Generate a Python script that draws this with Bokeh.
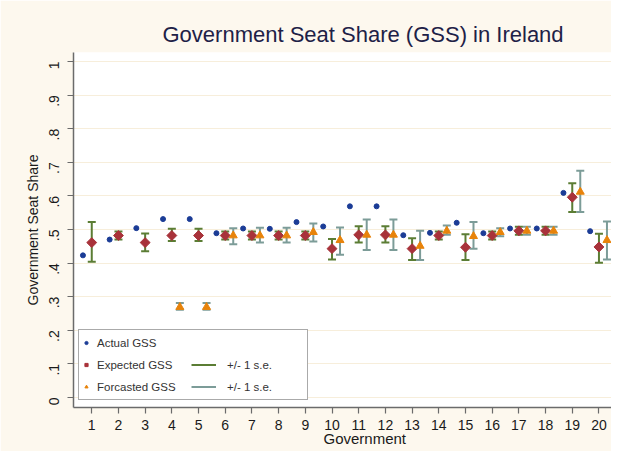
import math
from bokeh.plotting import figure
from bokeh.models import Legend, LegendItem, FixedTicker, Title
from bokeh.embed import file_html
from bokeh.resources import INLINE

# ---- data ----
gov = list(range(1, 21))
actual = [0.423, 0.470, 0.504, 0.531, 0.531, 0.489, 0.503, 0.502, 0.522, 0.509,
          0.569, 0.569, 0.483, 0.490, 0.520, 0.489, 0.503, 0.503, 0.609, 0.495]
expected = [0.461, 0.482, 0.461, 0.482, 0.482, 0.482, 0.482, 0.482, 0.482, 0.443,
            0.484, 0.484, 0.443, 0.482, 0.447, 0.482, 0.496, 0.496, 0.596, 0.448]
exp_lo = [0.404, 0.470, 0.435, 0.466, 0.466, 0.470, 0.470, 0.470, 0.470, 0.411,
          0.461, 0.461, 0.409, 0.470, 0.409, 0.470, 0.484, 0.484, 0.552, 0.401]
exp_hi = [0.522, 0.494, 0.488, 0.502, 0.502, 0.494, 0.494, 0.494, 0.494, 0.472,
          0.510, 0.510, 0.474, 0.494, 0.486, 0.494, 0.508, 0.508, 0.638, 0.487]

fc_gov = list(range(4, 21))
forecast = [0.269, 0.269, 0.482, 0.482, 0.482, 0.492, 0.468, 0.484, 0.484, 0.451,
            0.496, 0.480, 0.492, 0.496, 0.496, 0.612, 0.468]
fc_lo = [0.261, 0.261, 0.456, 0.461, 0.461, 0.464, 0.425, 0.439, 0.439, 0.409,
         0.484, 0.443, 0.480, 0.484, 0.484, 0.552, 0.411]
fc_hi = [0.281, 0.281, 0.504, 0.505, 0.505, 0.518, 0.506, 0.530, 0.530, 0.496,
         0.512, 0.522, 0.504, 0.508, 0.508, 0.675, 0.524]

y_ticks = [0, 0.1, 0.2, 0.3, 0.4, 0.5, 0.6, 0.7, 0.8, 0.9, 1.0]
y_tick_labels = ["0", ".1", ".2", ".3", ".4", ".5", ".6", ".7", ".8", ".9", "1"]

# ---- style ----
BG = "#fdf8ee"
NAVY = "#1b3c96"
MAROON = "#a8323a"
ORANGE = "#e8830a"
GREEN = "#5b7d34"
TEAL = "#7c9c98"
FONT = "Liberation Sans"

ACT_OFF = -0.33
FC_OFF = 0.30

x_act = [g + ACT_OFF for g in gov]
x_fc = [g + FC_OFF for g in fc_gov]

p = figure(width=611, height=451, x_range=(0.316, 20.47), y_range=(-0.03, 1.027),
           output_backend="svg", toolbar_location=None,
           min_border_left=73, min_border_right=0, min_border_top=52, min_border_bottom=44)
p.background_fill_color = "white"
p.border_fill_color = BG
p.outline_line_color = None

# title
p.title.text = "Government Seat Share (GSS) in Ireland"
p.title.align = "left"
p.title.offset = 89
p.title.text_font = FONT
p.title.text_font_size = "22px"
p.title.text_font_style = "normal"
p.title.text_color = "#1e2147"
p.title.standoff = 12

# grid
p.xgrid.grid_line_color = None
p.ygrid.grid_line_color = "#f7eedb"
p.ygrid.grid_line_width = 1

# axes
p.xaxis.ticker = FixedTicker(ticks=gov)
p.yaxis.ticker = FixedTicker(ticks=y_ticks)
p.yaxis.major_label_overrides = {t: l for t, l in zip(y_ticks, y_tick_labels)}
p.yaxis.major_label_orientation = math.pi / 2
for ax in (p.xaxis[0], p.yaxis[0]):
    ax.axis_line_color = "#6b6b6b"
    ax.axis_line_width = 1.5
    ax.major_tick_line_color = "#6b6b6b"
    ax.major_tick_line_width = 1.2
    ax.major_tick_out = 6
    ax.major_tick_in = 0
    ax.minor_tick_line_color = None
    ax.major_label_text_font = FONT
    ax.major_label_text_font_size = "14px"
    ax.major_label_text_color = "#1a1a1a"
    ax.axis_label_text_font = FONT
    ax.axis_label_text_font_style = "normal"
    ax.axis_label_text_color = "#1a1a1a"
p.xaxis.major_label_standoff = 6
p.yaxis.major_label_standoff = 13
p.yaxis.axis_label = "Government Seat Share"
p.yaxis.axis_label_text_font_size = "14px"
p.yaxis.axis_label_standoff = 1

# x-axis caption (offset to the right like the original)
xcap = Title(text="Government", align="left", offset=250, standoff=-6,
             vertical_align="top",
             text_font=FONT, text_font_size="15px", text_font_style="normal",
             text_color="#1a1a1a")
p.add_layout(xcap, "below")

# error bars: forecast (teal)
fc_seg = p.segment(x0=x_fc, y0=fc_lo, x1=x_fc, y1=fc_hi, line_color=TEAL, line_width=2)
p.scatter(x=x_fc + x_fc, y=fc_lo + fc_hi, marker="dash", size=8, line_color=TEAL, line_width=2)
# error bars: expected (green)
exp_seg = p.segment(x0=gov, y0=exp_lo, x1=gov, y1=exp_hi, line_color=GREEN, line_width=2)
p.scatter(x=gov + gov, y=exp_lo + exp_hi, marker="dash", size=8, line_color=GREEN, line_width=2)

# points
r_exp = p.scatter(x=gov, y=expected, marker="square", angle=math.pi / 4, size=7,
                  fill_color=MAROON, line_color=MAROON)
r_fc = p.scatter(x=x_fc, y=forecast, marker="triangle", size=8, fill_color=ORANGE, line_color=ORANGE)
r_act = p.scatter(x=x_act, y=actual, marker="circle", size=5, fill_color=NAVY, line_color=NAVY)

# legends
leg1 = Legend(items=[LegendItem(label="Actual GSS", renderers=[r_act]),
                     LegendItem(label="Expected GSS", renderers=[r_exp]),
                     LegendItem(label="Forcasted GSS", renderers=[r_fc])],
              location=(5, 7), orientation="vertical",
              glyph_width=8, glyph_height=19, label_height=19, label_width=207,
              label_standoff=7, spacing=3, padding=3, margin=0,
              border_line_color="#555555", border_line_width=1,
              background_fill_color="white", background_fill_alpha=1,
              label_text_font=FONT, label_text_font_size="11.5px", label_text_color="#333333")
leg2 = Legend(items=[LegendItem(label="+/- 1 s.e.", renderers=[exp_seg]),
                     LegendItem(label="+/- 1 s.e.", renderers=[fc_seg])],
              location=(115, 8), orientation="vertical",
              glyph_width=25, glyph_height=19, label_height=19, label_width=40,
              label_standoff=11, spacing=3, padding=3, margin=0,
              border_line_alpha=0, background_fill_alpha=0,
              label_text_font=FONT, label_text_font_size="11.5px", label_text_color="#333333")
p.add_layout(leg1)
p.add_layout(leg2)

open("out.html", "w").write(file_html(p, INLINE))
